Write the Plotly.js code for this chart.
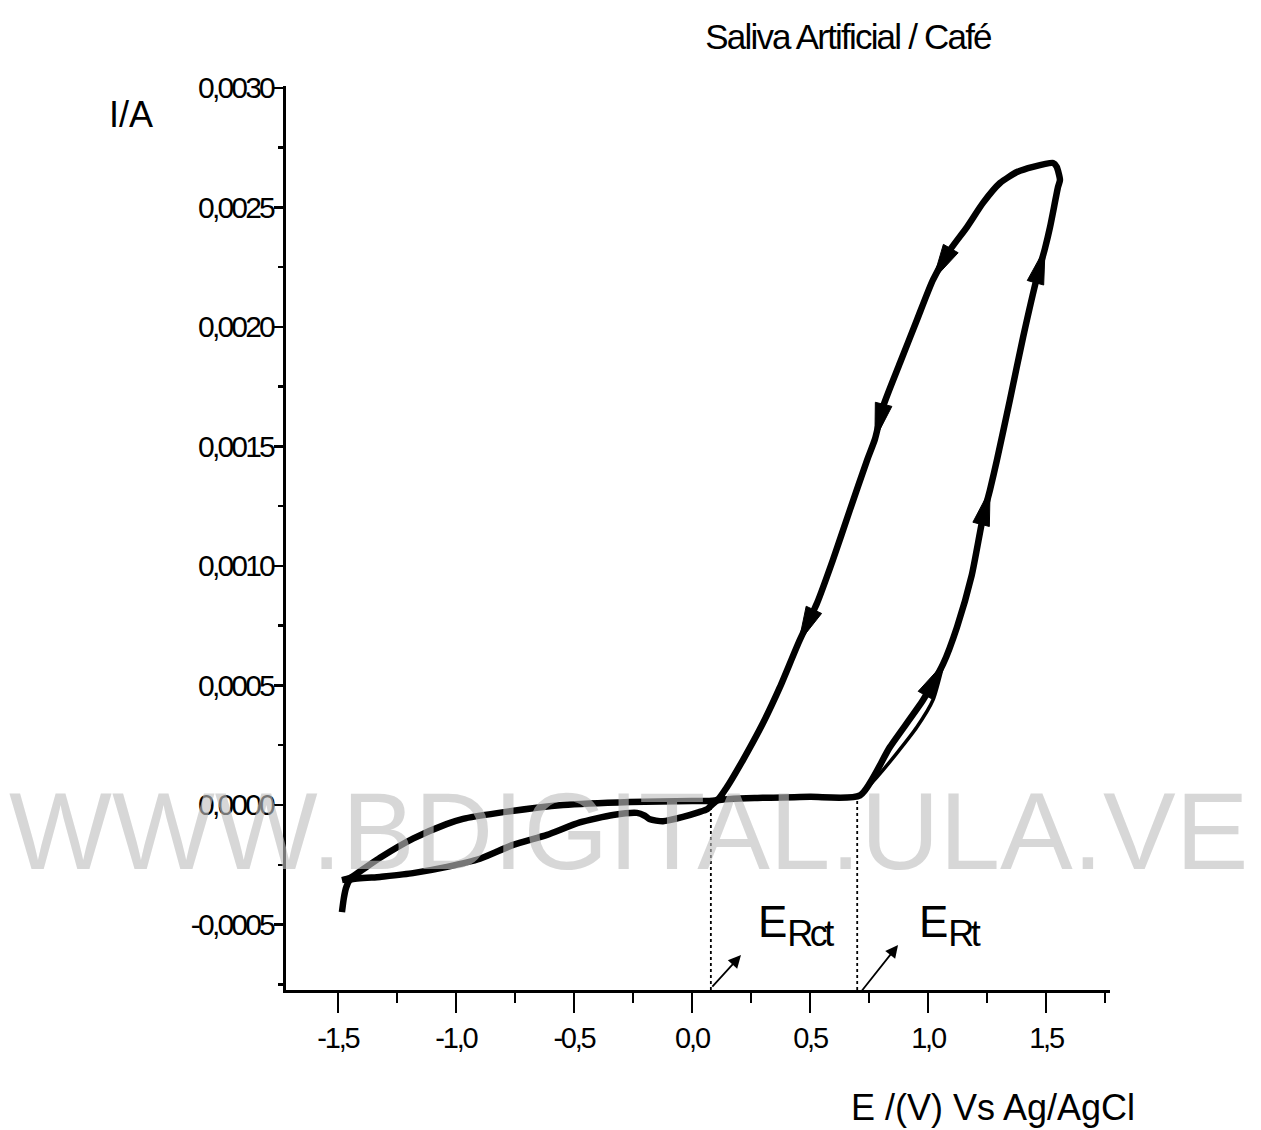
<!DOCTYPE html>
<html>
<head>
<meta charset="utf-8">
<script src="https://cdn.plot.ly/plotly-3.0.1.min.js"></script>
<style>
html,body{margin:0;padding:0;background:#fff;}
#chart{width:1261px;height:1130px;}
#chart .xtick text{letter-spacing:-2.2px;}
#chart .ytick text{letter-spacing:-2.8px;}
#chart .gtitle{letter-spacing:-1.8px;}
</style>
</head>
<body>
<div id="chart"></div>
<script>
// ---- data ----
const potential = [-1.483,-1.475,-1.465,-1.449,-1.322,-1.182,-1.038,-0.898,-0.758,-0.614,-0.475,-0.335,-0.233,-0.200,-0.178,-0.123,-0.038,0.030,0.064,0.106,0.300,0.500,0.712,0.839,0.979,1.064,1.123,1.185,1.233,1.263,1.292,1.347,1.403,1.462,1.496,1.517,1.551,1.559,1.545,1.530,1.445,1.377,1.305,1.233,1.165,1.093,1.021,0.953,0.881,0.809,0.775,0.742,0.669,0.597,0.530,0.452,0.373,0.301,0.216,0.148,0.106,0.000,-0.263,-0.547,-0.826,-0.970,-1.040,-1.180,-1.320,-1.410,-1.449,-1.483];
const current = [-0.000448,-0.000390,-0.000345,-0.000314,-0.000301,-0.000285,-0.000259,-0.000225,-0.000167,-0.000125,-0.000073,-0.000042,-0.000033,-0.000045,-0.000060,-0.000068,-0.000050,-0.000030,-0.000018,0.000018,0.000030,0.000034,0.000040,0.000243,0.000439,0.000590,0.000745,0.000960,0.001205,0.001320,0.001443,0.001695,0.001958,0.002209,0.002330,0.002418,0.002586,0.002615,0.002670,0.002686,0.002670,0.002648,0.002602,0.002519,0.002418,0.002322,0.002197,0.002029,0.001849,0.001665,0.001530,0.001443,0.001234,0.001025,0.000845,0.000680,0.000494,0.000343,0.000188,0.000075,0.000021,0.000017,0.000013,0.000000,-0.000034,-0.000058,-0.000080,-0.000140,-0.000220,-0.000280,-0.000305,-0.000314];
// second, slightly offset forward sweep near the onset of oxidation
const potential2 = [0.712,0.784,0.869,0.953,1.021,1.064];
const current2 = [0.000040,0.000117,0.000218,0.000326,0.000439,0.000590];
// indices of scan-direction arrows (tip points, on the curve)
const arrowIdx = [25,29,34,46,50,55];
// characteristic potentials (dotted markers)
const markerNames = ['Rct','Rt'];
const markerE = [0.08,0.70];
const markerI = [0.0,0.00003];
// ticks
const xTickVals = [-1.5,-1.0,-0.5,0.0,0.5,1.0,1.5];
const xTickText = ['-1,5','-1,0','-0,5','0,0','0,5','1,0','1,5'];
const yTickVals = [-0.0005,0,0.0005,0.0010,0.0015,0.0020,0.0025,0.0030];
const yTickText = ['-0,0005','0,0000','0,0005','0,0010','0,0015','0,0020','0,0025','0,0030'];

// ---- layout geometry ----
const W = 1261, H = 1130;
const M = {l:286, r:151, t:86, b:140};
const plotW = W - M.l - M.r, plotH = H - M.t - M.b;
const xRange = [-1.720, 1.771];
const yRange = [-0.000774, 0.003008];

const arial = "'Liberation Sans',Arial,sans-serif";

function toPx(x,y){return [(x-xRange[0])/(xRange[1]-xRange[0])*plotW, -(y-yRange[0])/(yRange[1]-yRange[0])*plotH];}
function toData(px,py){return [xRange[0]+px/plotW*(xRange[1]-xRange[0]), yRange[0]-py/plotH*(yRange[1]-yRange[0])];}

const shapes = [];
// scan-direction arrowheads
arrowIdx.forEach(i=>{
  const [tx,ty] = toPx(potential[i],current[i]);
  const [qx,qy] = toPx(potential[i-1],current[i-1]);
  let dx = tx-qx, dy = ty-qy; const n = Math.hypot(dx,dy); dx/=n; dy/=n;
  const L = 36, hw = 8.5;
  const bx = tx-dx*L, by = ty-dy*L;
  const p1 = toData(tx,ty), p2 = toData(bx-dy*hw, by+dx*hw), p3 = toData(bx+dy*hw, by-dx*hw);
  shapes.push({type:'path', xref:'x', yref:'y', path:`M${p1[0]},${p1[1]} L${p2[0]},${p2[1]} L${p3[0]},${p3[1]} Z`, fillcolor:'black', line:{color:'black',width:1}});
});
// dotted verticals
markerE.forEach((e,k)=>{
  shapes.push({type:'line', xref:'x', yref:'y', x0:e, x1:e, y0:yRange[0], y1:markerI[k], line:{color:'black',width:1.8,dash:'dot'}});
});

const traces = [
  {x:potential, y:current, type:'scatter', mode:'lines', line:{color:'black', width:6.5, shape:'spline', smoothing:0.6}, hoverinfo:'skip'},
  {x:potential2, y:current2, type:'scatter', mode:'lines', line:{color:'black', width:3.5, shape:'spline', smoothing:0.6}, hoverinfo:'skip'}
];

const subStyle = 'font-size:36px;letter-spacing:-3.5px';
const annotations = [
  {xref:'paper', yref:'paper', x:(131-M.l)/plotW, y:(H-M.b-114)/plotH, text:'I/A', showarrow:false, xanchor:'center', yanchor:'middle', font:{family:arial, size:36, color:'black'}},
  {xref:'paper', yref:'paper', x:(1137-M.l)/plotW, y:(H-M.b-1107)/plotH, text:'E /(V) Vs Ag/AgCl', showarrow:false, xanchor:'right', yanchor:'middle', font:{family:arial, size:36, color:'black'}},
  {xref:'x', yref:'y', x:0.270, y:-0.000378, text:'E<sub><span style="'+subStyle+'">'+markerNames[0]+'</span></sub>', showarrow:false, xanchor:'left', yanchor:'top', font:{family:arial, size:44, color:'black'}},
  {xref:'x', yref:'y', x:0.953, y:-0.000378, text:'E<sub><span style="'+subStyle+'">'+markerNames[1]+'</span></sub>', showarrow:false, xanchor:'left', yanchor:'top', font:{family:arial, size:44, color:'black'}},
  {xref:'x', yref:'y', x:0.2076, y:-0.000628, ax:-30, ay:33, text:'', showarrow:true, arrowhead:2, arrowsize:1.4, arrowwidth:1.8, arrowcolor:'black'},
  {xref:'x', yref:'y', x:0.873, y:-0.000586, ax:-38, ay:48, text:'', showarrow:true, arrowhead:2, arrowsize:1.4, arrowwidth:1.8, arrowcolor:'black'},
  {xref:'paper', yref:'paper', x:(629-M.l)/plotW, y:(H-M.b-831)/plotH, text:'WWW.BDIGITAL.ULA.VE', showarrow:false, xanchor:'center', yanchor:'middle', font:{family:arial, size:109, color:'rgba(190,190,190,0.62)'}}
];

const layout = {
  width:W, height:H,
  margin:{l:M.l, r:M.r, t:M.t, b:M.b, pad:0},
  paper_bgcolor:'white', plot_bgcolor:'white',
  showlegend:false,
  title:{text:'Saliva Artificial / Café', x:848/W, xanchor:'center', xref:'container', y:1-37/H, yanchor:'middle', yref:'container', font:{family:arial, size:35, color:'black'}},
  xaxis:{range:xRange, showgrid:false, zeroline:false, showline:true, linecolor:'black', linewidth:3,
    tickmode:'array', tickvals:xTickVals, ticktext:xTickText, ticks:'outside', ticklen:20, tickwidth:2.5, tickcolor:'black',
    tickfont:{family:arial, size:29, color:'black'},
    minor:{tickmode:'linear', tick0:0, dtick:0.25, ticks:'outside', ticklen:10, tickwidth:2.5, tickcolor:'black', showgrid:false}},
  yaxis:{range:yRange, showgrid:false, zeroline:false, showline:true, linecolor:'black', linewidth:3,
    tickmode:'array', tickvals:yTickVals, ticktext:yTickText, ticks:'outside', ticklen:9, tickwidth:2.5, tickcolor:'black',
    ticklabelstandoff:-5,
    tickfont:{family:arial, size:30, color:'black'},
    minor:{tickmode:'linear', tick0:0, dtick:0.00025, ticks:'outside', ticklen:5, tickwidth:2.5, tickcolor:'black', showgrid:false}},
  shapes:shapes,
  annotations:annotations
};

Plotly.newPlot('chart', traces, layout, {staticPlot:true, displayModeBar:false});
</script>
</body>
</html>
